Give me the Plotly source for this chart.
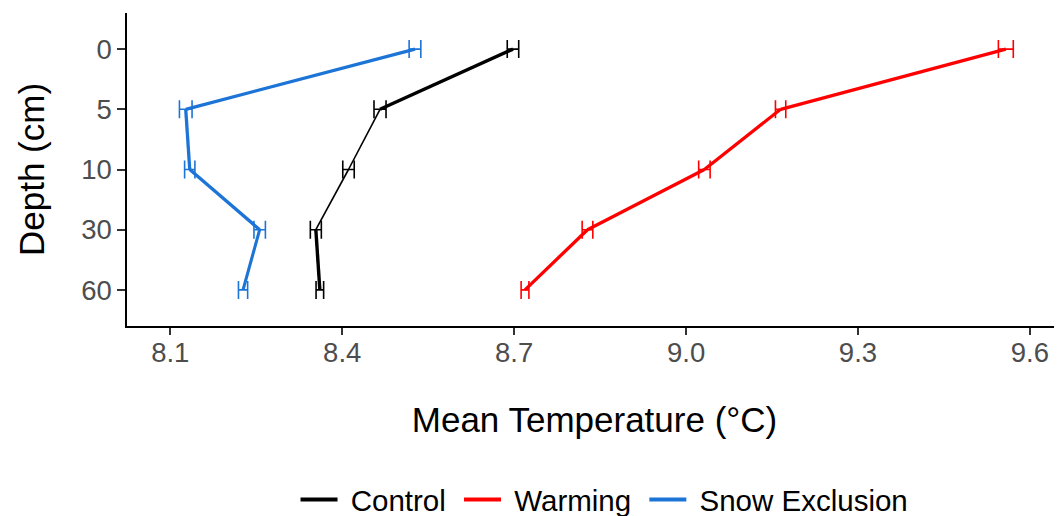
import plotly.graph_objects as go

# ---- data ----
depths = ["0", "5", "10", "30", "60"]
series_names = ["Control", "Warming", "Snow Exclusion"]
control_mean = [8.698, 8.466, 8.411, 8.354, 8.361]
control_se = [0.010, 0.0105, 0.010, 0.0096, 0.0066]
warming_mean = [9.558, 9.165, 9.032, 8.828, 8.719]
warming_se = [0.013, 0.009, 0.010, 0.0093, 0.0068]
snow_mean = [8.527, 8.127, 8.134, 8.256, 8.227]
snow_se = [0.0102, 0.011, 0.009, 0.010, 0.008]
x_ticks = [8.1, 8.4, 8.7, 9.0, 9.3, 9.6]
x_ticklabels = ["8.1", "8.4", "8.7", "9.0", "9.3", "9.6"]

# ---- styles ----
colors = {"Control": "black", "Warming": "#FF0000", "Snow Exclusion": "#1C74D6"}
seg_widths = {
    "Control": [3.4, 1.6, 1.6, 3.4],
    "Warming": [3.3, 3.3, 3.3, 3.3],
    "Snow Exclusion": [3.3, 3.3, 3.3, 3.1],
}
data = {
    "Control": (control_mean, control_se),
    "Warming": (warming_mean, warming_se),
    "Snow Exclusion": (snow_mean, snow_se),
}

FONT = "Liberation Sans, Arial, sans-serif"
NB = "\u00a0"
fig = go.Figure()

for name in series_names:
    mean, se = data[name]
    col = colors[name]
    for i in range(len(depths) - 1):
        fig.add_trace(go.Scatter(
            x=mean[i:i + 2], y=depths[i:i + 2], mode="lines",
            line=dict(color=col, width=seg_widths[name][i]),
            showlegend=False, hoverinfo="skip"))
    fig.add_trace(go.Scatter(
        x=mean, y=depths, mode="markers",
        marker=dict(size=1, color=col, opacity=0),
        error_x=dict(type="data", array=se, visible=True,
                     color=col, thickness=1.6, width=9),
        showlegend=False, name=name))
    fig.add_trace(go.Scatter(
        x=[None], y=[None], mode="lines", name=NB + name + NB,
        line=dict(color=col, width=4), showlegend=True))

# the page body has an 8px margin, so the figure is offset by 8px
fig.update_layout(
    width=1054, height=508,
    margin=dict(l=119, r=0, t=5, b=190, autoexpand=False),
    paper_bgcolor="white", plot_bgcolor="white",
    font=dict(family=FONT, color="black"),
    showlegend=True,
    legend=dict(orientation="h", x=0.515, xanchor="center",
                yref="container", y=0.032, yanchor="middle",
                font=dict(size=29.5, color="black", family=FONT),
                itemwidth=37, tracegroupgap=0),
    xaxis=dict(
        range=[8.0245, 9.656],
        tickvals=x_ticks, ticktext=x_ticklabels,
        showgrid=False, zeroline=False, automargin=False,
        showline=True, linecolor="black", linewidth=1.5,
        ticks="outside", ticklen=7, tickcolor="#333333", tickwidth=1.5,
        ticklabelstandoff=-6,
        tickfont=dict(size=27.5, color="#4D4D4D", family=FONT),
        title=dict(text="Mean Temperature (°C)",
                   font=dict(size=35, color="black", family=FONT),
                   standoff=41),
    ),
    yaxis=dict(
        type="category", categoryorder="array", categoryarray=depths,
        range=[4.6, -0.6],
        showgrid=False, zeroline=False, automargin=False,
        showline=True, linecolor="black", linewidth=1.5,
        ticks="outside", ticklen=8, tickcolor="#333333", tickwidth=1.5,
        tickfont=dict(size=27.5, color="#4D4D4D", family=FONT),
        title=dict(text="Depth (cm)",
                   font=dict(size=35, color="black", family=FONT),
                   standoff=26),
    ),
)

fig.write_html("out.html")
